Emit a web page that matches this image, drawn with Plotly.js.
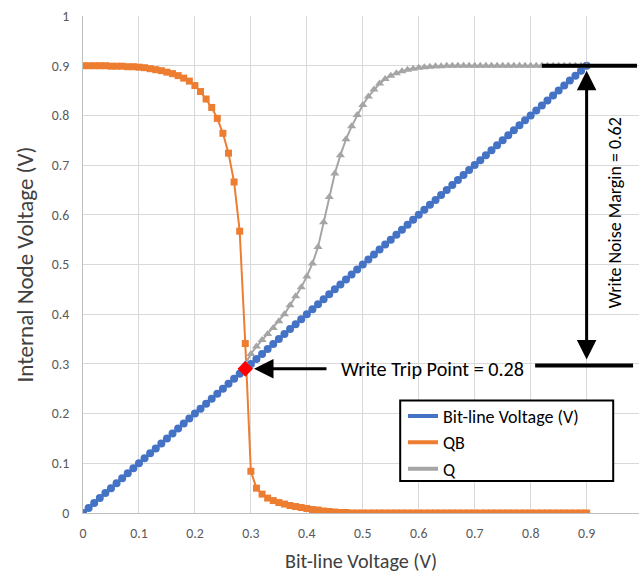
<!DOCTYPE html>
<html>
<head>
<meta charset="utf-8">
<script src="https://cdn.plot.ly/plotly-3.0.1.min.js"></script>
<style>html,body{margin:0;padding:0;background:#fff;}#chart{width:639px;height:573px;}</style>
</head>
<body>
<div id="chart"></div>
<script>
// Bit-line voltage sweep (V) – also the "Bit-line Voltage (V)" series
const bitline = [0,0.01,0.02,0.03,0.04,0.05,0.06,0.07,0.08,0.09,
  0.10,0.11,0.12,0.13,0.14,0.15,0.16,0.17,0.18,0.19,
  0.20,0.21,0.22,0.23,0.24,0.25,0.26,0.27,0.28,0.29,
  0.30,0.31,0.32,0.33,0.34,0.35,0.36,0.37,0.38,0.39,
  0.40,0.41,0.42,0.43,0.44,0.45,0.46,0.47,0.48,0.49,
  0.50,0.51,0.52,0.53,0.54,0.55,0.56,0.57,0.58,0.59,
  0.60,0.61,0.62,0.63,0.64,0.65,0.66,0.67,0.68,0.69,
  0.70,0.71,0.72,0.73,0.74,0.75,0.76,0.77,0.78,0.79,
  0.80,0.81,0.82,0.83,0.84,0.85,0.86,0.87,0.88,0.89,0.90];

// QB node voltage at each bit-line voltage above
const qb = [0.900,0.900,0.900,0.900,0.900,0.899,0.899,0.899,0.898,0.898,
  0.897,0.896,0.894,0.892,0.890,0.887,0.884,0.880,0.875,0.869,
  0.860,0.848,0.833,0.816,0.794,0.764,0.724,0.666,0.567,0.341,
  0.084,0.050,0.038,0.030,0.025,0.021,0.018,0.015,0.013,0.011,
  0.009,0.007,0.006,0.004,0.003,0.002,0.001,0.001,0,0,
  0,0,0,0,0,0,0,0,0,0,
  0,0,0,0,0,0,0,0,0,0,
  0,0,0,0,0,0,0,0,0,0,
  0,0,0,0,0,0,0,0,0,0,0];

// Q node: bit-line voltages where it is plotted, and its values
const qVolt = [0.29,
  0.30,0.31,0.32,0.33,0.34,0.35,0.36,0.37,0.38,0.39,
  0.40,0.41,0.42,0.43,0.44,0.45,0.46,0.47,0.48,0.49,
  0.50,0.51,0.52,0.53,0.54,0.55,0.56,0.57,0.58,0.59,
  0.60,0.61,0.62,0.63,0.64,0.65,0.66,0.67,0.68,0.69,
  0.70,0.71,0.72,0.73,0.74,0.75,0.76,0.77,0.78,0.79,
  0.80,0.81,0.82,0.83,0.84,0.85,0.86,0.87,0.88,0.89,0.90];
const q = [0.300,
  0.320,0.335,0.348,0.360,0.372,0.386,0.400,0.418,0.436,0.454,
  0.476,0.502,0.535,0.585,0.636,0.683,0.720,0.752,0.778,0.801,
  0.821,0.838,0.852,0.864,0.873,0.880,0.885,0.889,0.892,0.894,
  0.896,0.897,0.898,0.899,0.899,0.900,0.900,0.900,0.900,0.900,
  0.900,0.900,0.900,0.900,0.900,0.900,0.900,0.900,0.900,0.900,
  0.900,0.900,0.900,0.900,0.900,0.900,0.900,0.900,0.900,0.900,0.900];

// Write trip point marker
const tripX = [0.29];
const tripY = [0.29];

const seriesNames = ['Bit-line Voltage (V)', 'QB', 'Q'];
const xTicks = [0,0.1,0.2,0.3,0.4,0.5,0.6,0.7,0.8,0.9];
const yTicks = [0,0.1,0.2,0.3,0.4,0.5,0.6,0.7,0.8,0.9,1];

const BLUE = '#4472C4', ORANGE = '#ED7D31', GREY = '#A5A5A5';
const FONT = 'Carlito, Calibri, Lato, sans-serif';

// pick a font size so that a string renders at the reference's pixel width
const _ctx = document.createElement('canvas').getContext('2d');
function fitSize(str, targetWidth) {
  _ctx.font = '100px ' + FONT;
  return Math.round(100 * targetWidth / _ctx.measureText(str).width * 10) / 10;
}
const tickSize = fitSize('0.9', 17.5);
const xTitleSize = fitSize('Bit-line Voltage (V)', 152);
const yTitleSize = fitSize('Internal Node Voltage (V)', 236);
const tripSize = fitSize('Write Trip Point = 0.28', 183);
const marginSize = fitSize('Write Noise Margin = 0.62', 191);
const legSize = fitSize('Bit-line Voltage (V)', 136);

const traces = [
  {x: bitline, y: bitline, mode: 'lines+markers', showlegend: false,
   line: {color: BLUE, width: 2.5}, marker: {symbol: 'circle', size: 8, color: BLUE}},
  {x: bitline, y: qb, mode: 'lines+markers', showlegend: false,
   line: {color: ORANGE, width: 2}, marker: {symbol: 'square', size: 7, color: ORANGE}},
  {x: qVolt, y: q, mode: 'lines+markers', showlegend: false,
   line: {color: GREY, width: 2}, marker: {symbol: 'triangle-up', size: 8, color: GREY}},
  {x: tripX, y: tripY, mode: 'markers', showlegend: false,
   marker: {symbol: 'diamond', size: 12, color: '#FF0000'}},
  // legend entries (line samples only)
  {x: [null], y: [null], mode: 'lines', name: seriesNames[0], line: {color: BLUE, width: 4}},
  {x: [null], y: [null], mode: 'lines', name: seriesNames[1], line: {color: ORANGE, width: 4}},
  {x: [null], y: [null], mode: 'lines', name: seriesNames[2], line: {color: GREY, width: 4}}
];

const layout = {
  width: 639, height: 573,
  margin: {l: 83, r: 0, t: 16, b: 60},
  paper_bgcolor: '#fff', plot_bgcolor: '#fff',
  font: {family: FONT, color: '#595959', size: tickSize},
  showlegend: true,
  legend: {x: 0.5755, y: 0.232, xanchor: 'left', yanchor: 'top',
    bgcolor: 'rgba(0,0,0,0)', borderwidth: 0,
    font: {family: FONT, size: legSize, color: '#000'}, itemwidth: 30,
    tracegroupgap: 0},
  xaxis: {range: [0, 0.9936], tickvals: xTicks, showgrid: true, gridcolor: '#d9d9d9',
    zeroline: false, showline: true, linecolor: '#bfbfbf', linewidth: 1,
    ticks: 'outside', ticklen: 7, tickcolor: 'rgba(0,0,0,0)',
    tickfont: {family: FONT, size: tickSize, color: '#595959'},
    title: {text: 'Bit-line Voltage (V)', font: {family: FONT, size: xTitleSize, color: '#404040'}, standoff: 15}},
  yaxis: {range: [0, 1], tickvals: yTicks, showgrid: true, gridcolor: '#d9d9d9',
    zeroline: false, showline: true, linecolor: '#bfbfbf', linewidth: 1,
    ticks: 'outside', ticklen: 10, tickcolor: 'rgba(0,0,0,0)',
    tickfont: {family: FONT, size: tickSize, color: '#595959'},
    title: {text: 'Internal Node Voltage (V)', font: {family: FONT, size: yTitleSize, color: '#404040'}, standoff: 11}},
  shapes: [
    // legend frame
    {type: 'rect', xref: 'paper', yref: 'paper', x0: 0.5705, x1: 0.9536, y0: 0.0644, y1: 0.2266,
     layer: 'above', fillcolor: '#fff', line: {color: '#000', width: 2}},
    {type: 'line', xref: 'x', yref: 'y', x0: 0.820, x1: 0.99, y0: 0.9, y1: 0.9,
     line: {color: '#000', width: 4}},
    {type: 'line', xref: 'x', yref: 'y', x0: 0.808, x1: 0.983, y0: 0.297, y1: 0.297,
     line: {color: '#000', width: 4}}
  ],
  annotations: [
    {x: 0.3056, y: 0.29, ax: 0.4378, ay: 0.29, xref: 'x', yref: 'y', axref: 'x', ayref: 'y',
     text: '', showarrow: true, arrowhead: 2, arrowsize: 1.3, arrowwidth: 3, arrowcolor: '#000'},
    {x: 0.4575, y: 0.29, xref: 'x', yref: 'y', xanchor: 'left', yanchor: 'middle',
     text: 'Write Trip Point = 0.28', showarrow: false,
     font: {family: FONT, size: tripSize, color: '#000'}},
    {x: 0.9, y: 0.89, ax: 0.9, ay: 0.306, xref: 'x', yref: 'y', axref: 'x', ayref: 'y',
     text: '', showarrow: true, arrowhead: 2, startarrowhead: 2, arrowside: 'end+start',
     arrowsize: 1.3, startarrowsize: 1.3, arrowwidth: 3, arrowcolor: '#000', standoff: 0, startstandoff: 0},
    {x: 0.9507, y: 0.605, xref: 'x', yref: 'y', xanchor: 'center', yanchor: 'middle',
     text: 'Write Noise Margin = 0.62', showarrow: false, textangle: -90,
     font: {family: FONT, size: marginSize, color: '#000'}}
  ]
};

Plotly.newPlot('chart', traces, layout, {displayModeBar: false, staticPlot: true});
</script>
</body>
</html>
